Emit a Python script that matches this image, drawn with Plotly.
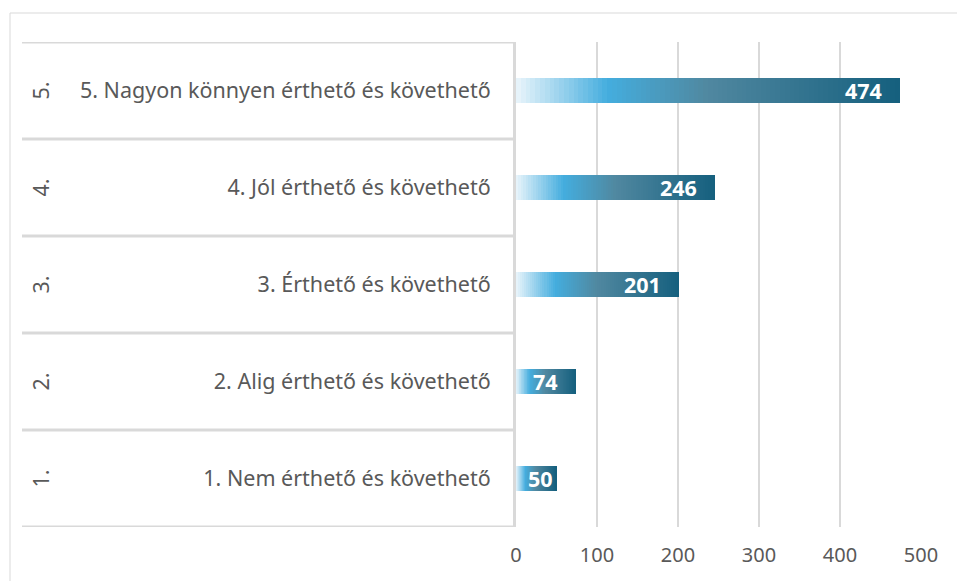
import plotly.graph_objects as go

# ---- data ----
categories = [
    "1. Nem érthető és követhető",
    "2. Alig érthető és követhető",
    "3. Érthető és követhető",
    "4. Jól érthető és követhető",
    "5. Nagyon könnyen érthető és követhető",
]
group_labels = ["1.", "2.", "3.", "4.", "5."]
values = [50, 74, 201, 246, 474]
x_ticks = [0, 100, 200, 300, 400, 500]

# ---- styling ----
FONT = "Noto Sans"
GREY_TEXT = "#595959"
LINE = "#d9d9d9"
N_SEG = 80
# gradient stops (position, rgb) relative to each bar's length
stops = [
    (0.00, (234, 245, 251)),
    (0.24, (68, 173, 222)),
    (0.50, (80, 136, 160)),
    (1.00, (21, 95, 126)),
]


def grad_color(t):
    for (p0, c0), (p1, c1) in zip(stops[:-1], stops[1:]):
        if t <= p1:
            f = (t - p0) / (p1 - p0)
            rgb = [c0[i] + (c1[i] - c0[i]) * f for i in range(3)]
            break
    return "rgb(%d,%d,%d)" % tuple(round(c) for c in rgb)


fig = go.Figure()
for j in range(N_SEG):
    t = (j + 0.5) / N_SEG
    fig.add_trace(go.Bar(
        y=categories,
        x=[v / N_SEG for v in values],
        orientation="h",
        width=0.25,
        marker=dict(color=grad_color(t), line=dict(width=0)),
        hoverinfo="skip",
        showlegend=False,
    ))

# value labels inside bar end
for cat, v in zip(categories, values):
    fig.add_annotation(
        x=v, y=cat, xref="x", yref="y",
        text="<b>%d</b>" % v, showarrow=False,
        xanchor="right", xshift=-16 if v > 60 else -2,
        font=dict(family=FONT, size=21.5, color="white"),
    )

# plot geometry helpers (pixels)
L, R, T, B = 516, 36, 42, 54
W, H = 957, 581
pw = W - L - R
ph = H - T - B


def px_to_paper_x(px):
    return (px - L) / pw


def px_to_paper_y(py):
    return 1 - (py - T) / ph


# outer group labels (rotated)
for i, g in enumerate(group_labels):
    fig.add_annotation(
        x=px_to_paper_x(40), xref="paper", xanchor="center",
        y=i, yref="y", yanchor="middle",
        text=g, showarrow=False, textangle=-90,
        font=dict(family=FONT, size=21.5, color=GREY_TEXT),
    )

# horizontal separators of the category table
shapes = []
for k in range(len(categories) + 1):
    shapes.append(dict(
        type="line", xref="paper", yref="y",
        x0=px_to_paper_x(22), x1=0, y0=k - 0.5, y1=k - 0.5,
        line=dict(color=LINE, width=3),
    ))
# outer chart border (top / left)
shapes.append(dict(
    type="rect", xref="paper", yref="paper",
    x0=px_to_paper_x(10), x1=px_to_paper_x(1000),
    y0=px_to_paper_y(700), y1=px_to_paper_y(13),
    line=dict(color=LINE, width=1), fillcolor="rgba(0,0,0,0)", layer="below",
))

fig.update_layout(
    width=W, height=H,
    margin=dict(l=L, r=R, t=T, b=B),
    barmode="stack",
    bargap=0,
    plot_bgcolor="white", paper_bgcolor="white",
    shapes=shapes,
    font=dict(family=FONT, color=GREY_TEXT),
)
fig.update_xaxes(
    range=[0, 500], tickvals=x_ticks, showgrid=True,
    gridcolor=LINE, gridwidth=2, zeroline=False, showline=False,
    ticks="", ticklabelstandoff=14,
    tickfont=dict(family=FONT, size=20, color=GREY_TEXT),
)
fig.update_yaxes(
    type="category", categoryorder="array", categoryarray=categories,
    range=[-0.5, len(categories) - 0.5],
    showgrid=False, zeroline=False,
    showline=True, linecolor=LINE, linewidth=3,
    ticks="", ticklabelstandoff=18,
    tickfont=dict(family=FONT, size=21.5, color=GREY_TEXT),
)

fig.write_html(
    "out.html",
    config={"displayModeBar": False},
    post_script="document.body.style.margin='0';document.body.style.overflow='hidden';",
)
